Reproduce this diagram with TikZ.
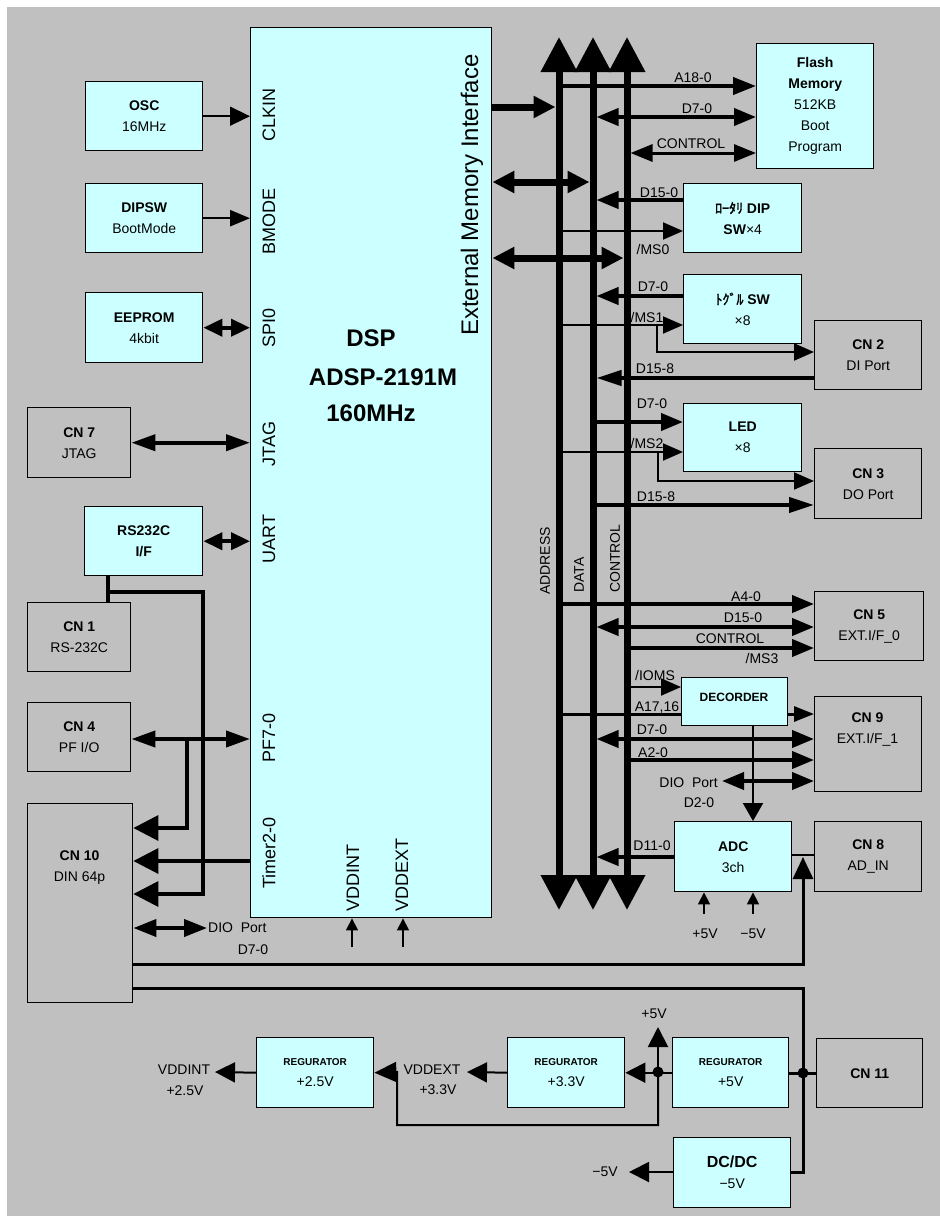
\documentclass[tikz,border=0pt]{standalone}
\usepackage{fontspec}
\setmainfont{Liberation Sans}
\newfontfamily\jp[AutoFakeBold=2]{Noto Sans CJK JP}
\usetikzlibrary{arrows.meta}
\definecolor{bg}{HTML}{C0C0C0}
\definecolor{cy}{HTML}{CCFFFF}
\newcommand\mybox[7]{\node[#1, anchor=north west, minimum width={#5pt-#3pt}, minimum height={#6pt-#4pt}] (#2) at (#3,#4) {#7};}
\tikzset{
 box/.style={draw, line width=1.4pt, fill=cy, inner sep=0pt, align=center, font=\fontsize{14}{21}\selectfont},
 cnbox/.style={box, fill=bg},
 hd/.style 2 args={>={Triangle[length=#1pt,width=#2pt]}},
 wa/.style={line width=1.5pt},
 wb/.style={line width=2pt},
 wc/.style={line width=3pt},
 wd/.style={line width=4pt},
 lbl/.style={inner sep=0pt, font=\fontsize{14}{17}\selectfont},
 pinl/.style={inner sep=0pt, rotate=90, font=\fontsize{18}{18}\selectfont},
 big/.style={inner sep=0pt, font=\fontsize{24}{24}\selectfont\bfseries},
 reg/.style={box, font=\fontsize{14}{21}\selectfont},
}
\begin{document}
\begin{tikzpicture}[x=1pt,y=-1pt, >={Triangle[length=22pt,width=17pt]}]
\useasboundingbox (0,0) rectangle (940,1216);
\fill[white] (0,0) rectangle (940,1216);
\fill[bg] (7,7) rectangle (940,1216);

% ---------- boxes ----------
\mybox{box}{osc}{85}{81}{202}{150}{\textbf{OSC}\\16MHz}
\mybox{box}{dipsw}{85}{183}{202}{252}{\textbf{DIPSW}\\BootMode}
\mybox{box}{eeprom}{85}{292}{202}{362}{\textbf{EEPROM}\\4kbit}
\mybox{box}{dsp}{250}{27}{491}{917}{}
\mybox{cnbox}{cn7}{27}{407}{130}{477}{\textbf{CN 7}\\JTAG}
\mybox{box}{rs}{84}{506}{202}{575}{\textbf{RS232C}\\\textbf{I/F}}
\mybox{cnbox}{cn1}{27}{602}{130}{671}{\textbf{CN 1}\\RS-232C}
\mybox{cnbox}{cn4}{27}{702}{130}{771}{\textbf{CN 4}\\PF I/O}
\mybox{cnbox}{cn10}{27}{803}{132}{1002}{}
\node[lbl, align=center, font=\fontsize{14}{21}\selectfont] (cn10t) at (79.5,868) {\textbf{CN 10}\\DIN 64p};

\mybox{box}{flash}{756}{43}{873}{168}{\textbf{Flash}\\\textbf{Memory}\\512KB\\Boot\\Program}
\mybox{box}{rot}{683}{183}{801}{252}{{\jp\bfseries ﾛｰﾀﾘ} \textbf{DIP}\\\textbf{SW}×4}
\mybox{box}{tog}{683}{274}{801}{343}{{\jp\bfseries ﾄｸﾞﾙ} \textbf{SW}\\×8}
\mybox{cnbox}{cn2}{814}{320}{921}{389}{\textbf{CN 2}\\DI Port}
\mybox{box}{led}{683}{403}{801}{471}{\textbf{LED}\\×8}
\mybox{cnbox}{cn3}{814}{448}{921}{518}{\textbf{CN 3}\\DO Port}
\mybox{cnbox}{cn5}{814}{591}{923}{660}{\textbf{CN 5}\\EXT.I/F\_0}
\mybox{box}{dec}{681}{677}{787}{725}{}
\node[inner sep=0pt, font=\fontsize{12}{12}\selectfont\bfseries] (dect) at (734,697) {DECORDER};
\mybox{cnbox}{cn9}{814}{696}{921}{791}{}
\node[lbl, align=center, font=\fontsize{14}{21}\selectfont] (cn9t) at (867.5,729.5) {\textbf{CN 9}\\EXT.I/F\_1};
\mybox{box}{adc}{674}{821}{791}{891}{\textbf{ADC}\\3ch}
\mybox{cnbox}{cn8}{814}{821}{921}{891}{\textbf{CN 8}\\AD\_IN}

\mybox{box}{reg25}{256}{1037}{373}{1107}{{\fontsize{10}{21}\selectfont\bfseries REGURATOR}\\+2.5V}
\mybox{box}{reg33}{507}{1037}{624}{1107}{{\fontsize{10}{21}\selectfont\bfseries REGURATOR}\\+3.3V}
\mybox{box}{reg5}{672}{1037}{788}{1107}{{\fontsize{10}{21}\selectfont\bfseries REGURATOR}\\+5V}
\mybox{cnbox}{cn11}{816}{1038}{922}{1107}{\textbf{CN 11}}
\mybox{box}{dcdc}{673}{1137}{790}{1207}{{\fontsize{16}{21}\selectfont\bfseries DC/DC}\\−5V}

% ---------- DSP texts ----------
\node[big] (t1) at (371,338) {DSP};
\node[big] (t2) at (383,377) {ADSP-2191M};
\node[big] (t3) at (371,413) {160MHz};
\node[inner sep=0pt, rotate=90, font=\fontsize{24}{24}\selectfont] (emi) at (472,195) {External Memory Interface};
\node[pinl] (p1) at (269,115) {CLKIN};
\node[pinl] (p2) at (269,221) {BMODE};
\node[pinl] (p3) at (269,328) {SPI0};
\node[pinl] (p4) at (269,444) {JTAG};
\node[pinl] (p5) at (269,539) {UART};
\node[pinl] (p6) at (269,738) {PF7-0};
\node[pinl] (p7) at (269,853) {Timer2-0};
\node[pinl, anchor=west] (p8) at (353,912) {VDDINT};
\node[pinl, anchor=west] (p9) at (402,912) {VDDEXT};

% ---------- buses ----------
\coordinate (aL) at (555.5,0); \coordinate (aR) at (562.5,0);
\coordinate (dL) at (589.5,0); \coordinate (dR) at (596.5,0);
\coordinate (cL) at (623.5,0); \coordinate (cR) at (630.5,0);
\coordinate (busA) at (559,0); \coordinate (busD) at (593,0); \coordinate (busC) at (627,0);
\foreach \b in {busA,busD,busC}
  \draw[line width=7pt, hd={35}{35}, <->] (\b |- 0,37) -- (\b |- 0,910);
\node[lbl, rotate=90, anchor=west] (la) at (545,595) {ADDRESS};
\node[lbl, rotate=90, anchor=west] (ld) at (579,593) {DATA};
\node[lbl, rotate=90, anchor=west] (lc) at (615,593) {CONTROL};

% ---------- left connectors ----------
\draw[wa, hd={20}{19}, ->] (osc.east) -- (dsp.west |- osc.east);
\draw[line width=2.5pt, hd={20}{16}, ->] (dipsw.east) -- (dsp.west |- dipsw.east);
\draw[wd, hd={19}{17}, <->] (eeprom.east) -- (dsp.west |- eeprom.east);
\draw[wd, hd={24}{16}, <->] (cn7.east) -- (dsp.west |- cn7.east);
\draw[wd, hd={19}{17}, <->] (rs.east) -- (dsp.west |- rs.east);
\draw[line width=3.5pt] (rs.south -| 108,0) -- (cn1.north -| 108,0);
\draw[line width=3.5pt, hd={25}{25}, ->] (108,592) -- (203,592) -- (203,894) -- (cn10.east |- 0,894);
\draw[wd, hd={24}{16}, <->] (cn4.east |- 0,739) -- (dsp.west |- 0,739);
\draw[line width=3.5pt, hd={25}{25}, ->] (187,739) -- (187,828) -- (cn10.east |- 0,828);
\draw[line width=3.5pt, hd={25}{25}, ->] (dsp.west |- 0,861) -- (cn10.east |- 0,861);
\coordinate (dioL) at (207,928);
\draw[wd, hd={23}{17}, <->] (cn10.east |- 0,928) -- (dioL);
\node[lbl, anchor=west] (diol1) at (208,928) {DIO\ \ Port};
\node[lbl] (diol2) at (253,950) {D7-0};
\draw[wa, hd={12}{12}, ->] (352,947) -- (dsp.south -| 352,0);
\draw[wa, hd={12}{12}, ->] (403,947) -- (dsp.south -| 403,0);
\draw[wc, hd={22}{20}, ->] (cn10.east |- 0,964) -- (803,964) -- (803,857);
\draw[wc] (cn10.east |- 0,988) -- (803,988) -- (803,1172) -- (dcdc.east |- 0,1172);

% ---------- DSP to buses ----------
\draw[line width=7pt, hd={22}{21}, ->] (dsp.east |- 0,107) -- (aL |- 0,107);
\draw[line width=7pt, hd={22}{21}, <->] (dsp.east |- 0,182) -- (dL |- 0,182);
\draw[line width=7pt, hd={22}{21}, <->] (dsp.east |- 0,258) -- (cL |- 0,258);

% ---------- right connectors ----------
\draw[wd, hd={23}{17}, ->] (aR |- 0,86) -- (flash.west |- 0,86);
\draw[wd, <->] (dR |- 0,117) -- (flash.west |- 0,117);
\draw[wc, <->] (cR |- 0,153) -- (flash.west |- 0,153);
\node[lbl] (l1) at (693,78) {A18-0};
\node[lbl] (l2) at (697,109) {D7-0};
\node[lbl] (l3) at (691,144) {CONTROL};

\draw[wd, ->] (rot.west |- 0,200) -- (dR |- 0,200);
\draw[wb, hd={20}{17}, ->] (aR |- 0,231) -- (rot.west |- 0,231);
\node[lbl] (l4) at (659,193) {D15-0};
\node[lbl] (l5) at (653,249) {/MS0};

\draw[wd, ->] (tog.west |- 0,296) -- (dR |- 0,296);
\draw[wb, hd={20}{17}, ->] (aR |- 0,325) -- (tog.west |- 0,325);
\draw[wb, hd={20}{17}, ->] (657,325) -- (657,352) -- (cn2.west |- 0,352);
\draw[wd, hd={25}{15}, ->] (cn2.west |- 0,378) -- (dR |- 0,378);
\node[lbl] (l6) at (653,287) {D7-0};
\node[lbl] (l7) at (647,317) {/MS1};
\node[lbl] (l8) at (655,369) {D15-8};

\draw[wd, hd={22}{17}, ->] (dR |- 0,422) -- (led.west |- 0,422);
\draw[wb, hd={20}{17}, ->] (aR |- 0,452) -- (led.west |- 0,452);
\draw[wb, hd={20}{17}, ->] (658,452) -- (658,481) -- (cn3.west |- 0,481);
\draw[wd, hd={25}{15}, ->] (dR |- 0,505) -- (cn3.west |- 0,505);
\node[lbl] (l9) at (652,404) {D7-0};
\node[lbl] (l10) at (647,443) {/MS2};
\node[lbl] (l11) at (656,497) {D15-8};

\draw[wd, ->] (aR |- 0,604) -- (cn5.west |- 0,604);
\draw[wd, <->] (dR |- 0,627) -- (cn5.west |- 0,627);
\draw[wd, ->] (cR |- 0,648) -- (cn5.west |- 0,648);
\node[lbl] (l12) at (746,597) {A4-0};
\node[lbl] (l13) at (743,618) {D15-0};
\node[lbl] (l14) at (730,639) {CONTROL};
\node[lbl] (l15) at (762,658) {/MS3};

\draw[wb, hd={20}{17}, ->] (cR |- 0,687) -- (dec.west |- 0,687);
\draw[wc] (aR |- 0,714) -- (dec.west |- 0,714);
\draw[wc, hd={20}{15}, ->] (dec.east |- 0,714) -- (cn9.west |- 0,714);
\draw[wd, <->] (dR |- 0,739) -- (cn9.west |- 0,739);
\draw[wd, ->] (cR |- 0,760) -- (cn9.west |- 0,760);
\coordinate (dioR) at (722,781);
\draw[wd, <->] (dioR) -- (cn9.west |- 0,781);
\draw[wb, hd={18}{20}, ->] (dec.south -| 753,0) -- (adc.north -| 753,0);
\node[lbl] (l16) at (655,675) {/IOMS};
\node[lbl] (l17) at (657,707) {A17,16};
\node[lbl] (l18) at (652,730) {D7-0};
\node[lbl] (l19) at (653,753) {A2-0};
\node[lbl, anchor=east] (l20) at (718,783) {DIO\ \ Port};
\node[lbl] (l21) at (699,803) {D2-0};

\draw[wd, ->] (adc.west |- 0,857) -- (dR |- 0,857);
\draw[wb] (adc.east |- 0,855) -- (cn8.west |- 0,855);
\node[lbl] (l22) at (652,846) {D11-0};
\draw[wa, hd={12}{12}, ->] (704,914) -- (adc.south -| 704,0);
\draw[wa, hd={12}{12}, ->] (753,914) -- (adc.south -| 753,0);
\node[lbl] (l23) at (705,934) {+5V};
\node[lbl] (l24) at (753,934) {−5V};

% ---------- power ----------
\coordinate (vint) at (215,1072);
\draw[wb, hd={20}{20}, ->] (reg25.west) -- (vint);
\node[lbl] (l25) at (184,1070) {VDDINT};
\node[lbl] (l26) at (185,1091) {+2.5V};
\coordinate (vext) at (467,1072);
\draw[wb, hd={20}{20}, ->] (reg33.west) -- (vext);
\node[lbl] (l27) at (432,1070) {VDDEXT};
\node[lbl] (l28) at (438,1090) {+3.3V};
\coordinate (j5) at (658,1072);
\draw[wb, hd={20}{20}, ->] (reg5.west) -- (reg33.east);
\draw[wb, hd={20}{20}, ->] (j5) -- (658,1027);
\node[lbl] (l29) at (654,1014) {+5V};
\draw[wb, hd={22}{20}, ->] (j5) -- (658,1125) -- (397,1125) -- (397,1072) -- (reg25.east);
\fill (j5) circle (5.5pt);
\coordinate (j11) at (803,1073);
\draw[wc] (reg5.east |- j11) -- (cn11.west |- j11);
\fill (j11) circle (5.5pt);
\coordinate (m5) at (629,1172);
\draw[wb, hd={20}{20}, ->] (dcdc.west |- m5) -- (m5);
\node[lbl] (l30) at (605,1172) {−5V};
\end{tikzpicture}
\end{document}
